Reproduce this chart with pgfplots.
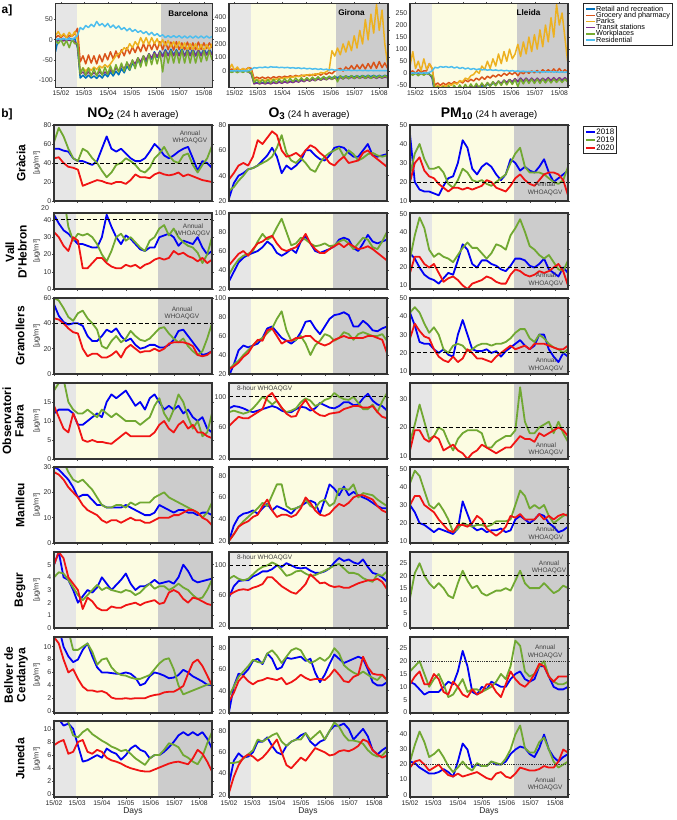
\documentclass[border=0pt]{standalone}
\usepackage{pgfplots}
\pgfplotsset{compat=1.18}
\usepackage{pgfplotstable}
\usepackage{fontspec}
\setmainfont{Liberation Sans}
\setsansfont{Liberation Sans}

\definecolor{c18}{RGB}{0,0,245}
\definecolor{c19}{RGB}{112,168,50}
\definecolor{c20}{RGB}{240,20,20}
\definecolor{bgL}{RGB}{230,230,230}
\definecolor{bgY}{RGB}{252,252,226}
\definecolor{bgD}{RGB}{204,204,204}
\definecolor{cR}{RGB}{0,114,189}
\definecolor{cG}{RGB}{217,83,25}
\definecolor{cP}{RGB}{237,177,32}
\definecolor{cT}{RGB}{126,47,142}
\definecolor{cW}{RGB}{119,172,48}
\definecolor{cS}{RGB}{77,190,238}

\pgfplotsset{
  base/.style={scale only axis, anchor=north west, axis on top, clip=true,
    axis line style={line width=1.3bp, draw=black!80},
    major tick length=1.5bp, tick align=outside, tick style={draw=black!70, line width=0.4bp},
    yticklabel style={font=\fontsize{7}{8}\selectfont, text=black!80, inner sep=1bp},
    xticklabel style={font=\fontsize{6.8}{8}\selectfont, text=black!85, inner sep=1.5bp},
    /pgf/number format/assume math mode=true,
    /pgf/number format/1000 sep={},
    every axis plot/.append style={line width=1.8bp, line join=round},
    xlabel style={font=\fontsize{8.5}{9}\selectfont, text=black!85, inner sep=1bp},
  },
  pan/.style={base, width=158bp, height=76bp, xmin=0, xmax=198, xtick={0,29,60,90,121,151,182}, xticklabels={}},
  panb/.style={pan, xticklabels={15/02,15/03,15/04,15/05,15/06,15/07,15/08}, xlabel={Days}},
  topp/.style={base, height=84bp, xmin=-7, xmax=193, xtick={0,29,60,90,121,151,182},
    xticklabels={15/02,15/03,15/04,15/05,15/06,15/07,15/08},
    every axis plot/.append style={line width=1.5bp}},
  who/.style={black, line width=0.9bp, dash pattern=on 4bp off 2.5bp, forget plot},
  whod/.style={black!80, line width=0.6bp, dash pattern=on 0.8bp off 1bp, forget plot},
}
\tikzset{wt/.style={font=\fontsize{6.5}{7.3}\selectfont, text=black!75, align=center, inner sep=0pt}}

\newcommand{\bgs}[4]{%
 \fill[bgL] ({axis cs:#1,0}|-{rel axis cs:0,0}) rectangle ({axis cs:#2,0}|-{rel axis cs:0,1});
 \fill[bgY] ({axis cs:#2,0}|-{rel axis cs:0,0}) rectangle ({axis cs:#3,0}|-{rel axis cs:0,1});
 \fill[bgD] ({axis cs:#3,0}|-{rel axis cs:0,0}) rectangle ({axis cs:#4,0}|-{rel axis cs:0,1});}
\newcommand{\three}[1]{\addplot[c18] table[x=d,y=a]{#1};\addplot[c19] table[x=d,y=b]{#1};\addplot[c20] table[x=d,y=c]{#1};}
\newcommand{\six}[1]{\addplot[cR] table[x=x,y=R]{#1};\addplot[cG] table[x=x,y=G]{#1};\addplot[cP] table[x=x,y=P]{#1};\addplot[cT] table[x=x,y=T]{#1};\addplot[cW] table[x=x,y=W]{#1};\addplot[cS] table[x=x,y=S]{#1};}

% ---------------- a] mobility ----------------
\pgfplotstableread{
x R G P T W S
-7 -30 5 10 0 -2 0
-3.5 2 10 20 -2 -10 2
0 0 5 8 0 0 0
3.5 3 12 15 -3 -15 3
7 -2 5 5 0 -2 0
10.5 4 10 18 -2 -20 2
14 0 8 8 -2 0 0
17.5 3 15 20 -5 -10 5
21 -20 28 0 -15 -10 10
24.5 -95 -55 -80 -85 -85 30
28 -88 -40 -70 -80 -70 25
31.5 -95 -60 -78 -88 -88 35
35 -88 -38 -70 -80 -70 30
38.5 -95 -58 -76 -88 -90 38
42 -90 -40 -68 -82 -72 32
45.5 -96 -60 -74 -88 -90 45
49 -88 -38 -65 -80 -70 35
52.5 -95 -55 -70 -86 -88 40
56 -85 -35 -62 -80 -68 32
59.5 -92 -50 -68 -85 -86 40
63 -80 -30 -60 -75 -65 30
66.5 -90 -48 -50 -82 -84 36
70 -78 -28 -40 -70 -62 28
73.5 -87 -45 -35 -78 -80 34
77 -72 -25 -30 -65 -58 25
80.5 -82 -40 -20 -72 -78 30
84 -66 -20 -25 -58 -55 22
87.5 -76 -35 -10 -66 -75 28
91 -58 -18 -20 -52 -50 20
94.5 -68 -32 -5 -60 -72 25
98 -50 -15 -15 -45 -45 18
101.5 -62 -30 5 -55 -68 22
105 -42 -10 -10 -40 -40 15
108.5 -55 -28 5 -50 -65 20
112 -35 -8 -12 -35 -36 12
115.5 -48 -25 5 -45 -62 18
119 -30 -8 -10 -32 -35 10
122.5 -44 -25 2 -42 -60 15
126 -28 -5 -15 -30 -32 8
129.5 -40 -25 0 -42 -80 12
133 -25 -5 -15 -28 -30 5
136.5 -38 -25 -2 -40 -58 10
140 -24 -6 -18 -28 -28 5
143.5 -38 -26 -5 -40 -58 10
147 -25 -5 -20 -28 -28 5
150.5 -38 -25 -5 -40 -58 10
154 -22 -8 -22 -27 -26 4
157.5 -40 -25 -8 -40 -58 9
161 -24 -6 -25 -27 -28 4
164.5 -38 -25 -10 -40 -58 9
168 -22 -8 -25 -27 -28 4
171.5 -40 -25 -10 -40 -58 9
175 -24 -6 -28 -27 -30 4
178.5 -38 -24 -12 -40 -55 9
182 -22 -8 -28 -27 -28 4
185.5 -36 -22 -12 -38 -52 9
189 -24 -8 -25 -27 -28 4
192.5 -35 -20 -10 -38 -50 8
}\tBar
\pgfplotstableread{
x R G P T W S
-7 0 5 10 0 -2 0
-3.5 -5 15 50 -3 -10 2
0 0 5 5 0 0 0
3.5 3 20 30 -2 -12 3
7 -2 5 0 0 0 0
10.5 0 15 20 -3 -10 2
14 0 10 5 0 0 0
17.5 -5 25 25 -5 -8 3
21 -20 20 0 -20 -10 10
24.5 -90 -55 -70 -95 -85 25
28 -85 -45 -60 -88 -65 22
31.5 -92 -55 -70 -95 -88 28
35 -85 -45 -65 -88 -65 25
38.5 -90 -55 -70 -95 -88 30
42 -85 -45 -60 -88 -65 25
45.5 -90 -55 -65 -95 -88 32
49 -82 -42 -60 -85 -62 28
52.5 -88 -50 -60 -92 -85 30
56 -80 -40 -55 -82 -60 25
59.5 -86 -48 -55 -90 -82 28
63 -78 -38 -50 -80 -58 24
66.5 -84 -45 -50 -88 -80 27
70 -75 -35 -45 -78 -55 22
73.5 -80 -42 -45 -85 -78 25
77 -70 -32 -40 -75 -52 20
80.5 -76 -40 -40 -82 -75 24
84 -65 -30 -35 -70 -50 18
87.5 -72 -38 -30 -78 -72 22
91 -60 -28 -30 -65 -48 16
94.5 -68 -35 -25 -75 -70 20
98 -55 -25 -30 -62 -45 14
101.5 -62 -32 -20 -72 -68 18
105 -50 -20 -25 -58 -42 12
108.5 -58 -30 -10 -68 -65 16
112 -45 -15 -15 -55 -40 10
115.5 -55 -25 -5 -65 -62 14
119 -42 -10 10 -52 -38 8
122.5 -50 -20 150 -62 -60 12
126 -40 0 110 -50 -36 6
129.5 -50 10 170 -60 -80 10
133 -38 20 120 -48 -35 5
136.5 -48 0 200 -58 -58 8
140 -36 30 140 -46 -35 4
143.5 -46 10 220 -56 -56 7
147 -35 40 150 -45 -34 3
150.5 -45 10 260 -55 -55 6
154 -34 45 170 -44 -34 3
157.5 -44 15 300 -54 -54 6
161 -33 50 200 -44 -34 3
164.5 -43 15 380 -54 -54 5
168 -32 55 230 -44 -34 2
171.5 -42 20 420 -54 -54 5
175 -32 65 280 -44 -34 2
178.5 -42 20 490 -54 -52 4
182 -32 70 300 -44 -34 2
185.5 -42 25 450 -52 -50 4
189 -32 60 200 -44 -34 2
192.5 -40 20 50 -50 -48 3
}\tGir
\pgfplotstableread{
x R G P T W S
-7 0 5 30 0 0 0
-3.5 -3 10 90 -2 -8 2
0 0 0 20 0 0 0
3.5 2 15 50 -2 -10 3
7 0 5 10 0 0 0
10.5 -2 10 60 -3 -8 2
14 0 10 15 0 0 0
17.5 -3 40 40 -5 -5 4
21 -20 20 20 -15 -10 10
24.5 -90 -50 -60 -78 -72 25
28 -80 -40 -50 -70 -55 22
31.5 -90 -50 -60 -78 -72 28
35 -80 -40 -50 -70 -55 25
38.5 -88 -48 -55 -76 -70 28
42 -78 -38 -45 -68 -52 24
45.5 -85 -45 -50 -74 -70 28
49 -75 -35 -40 -65 -50 22
52.5 -82 -42 -45 -72 -68 26
56 -70 -32 -30 -62 -48 20
59.5 -78 -40 -35 -70 -66 24
63 -65 -28 -20 -58 -46 18
66.5 -72 -35 -25 -66 -64 22
70 -60 -25 -10 -54 -44 16
73.5 -68 -32 -5 -62 -62 20
77 -55 -20 10 -50 -42 15
80.5 -62 -28 0 -58 -60 18
84 -50 -15 30 -45 -40 14
87.5 -58 -25 15 -54 -58 16
91 -45 -12 50 -40 -38 13
94.5 -52 -20 20 -50 -55 15
98 -40 -8 60 -36 -35 12
101.5 -48 -15 30 -46 -52 14
105 -35 -5 80 -32 -32 11
108.5 -45 -12 40 -42 -50 13
112 -30 0 90 -28 -30 10
115.5 -40 -8 50 -38 -48 12
119 -28 2 100 -25 -28 9
122.5 -38 -5 60 -35 -46 11
126 -25 5 80 -22 -26 8
129.5 -35 -10 120 -34 -55 10
133 -22 5 70 -20 -25 7
136.5 -35 -2 130 -32 -44 9
140 -22 8 80 -20 -24 6
143.5 -35 0 150 -32 -42 8
147 -22 10 90 -20 -24 6
150.5 -35 2 160 -32 -42 8
154 -22 12 100 -20 -24 5
157.5 -35 2 180 -32 -42 7
161 -22 15 110 -20 -24 5
164.5 -35 5 200 -30 -40 7
168 -22 15 130 -18 -24 5
171.5 -35 5 230 -30 -40 7
175 -22 18 150 -18 -24 5
178.5 -35 5 285 -30 -38 6
182 -22 20 200 -18 -24 4
185.5 -32 5 250 -28 -38 6
189 -22 15 150 -18 -24 4
192.5 -30 5 50 -28 -36 6
}\tLle

% ---------------- b] pollutants ----------------
\pgfplotstableread{
d a b c
0 55 62 45
6 55 77 46
12 53 68 40
18 52 55 36
24 45 45 35
30 42 42 33
36 42 55 16
42 40 52 18
48 38 45 20
54 42 40 22
60 55 32 21
66 68 25 19
72 55 30 18
78 52 38 20
84 55 40 20
90 50 45 18
96 45 42 22
102 42 38 28
108 42 32 25
114 45 30 25
120 52 35 24
126 60 45 28
132 55 50 30
138 48 57 28
144 45 48 27
150 48 42 28
156 52 40 30
162 55 48 26
168 57 50 28
174 45 38 26
180 32 30 24
186 42 38 22
192 40 45 21
198 35 58 20
}\tGN
\pgfplotstableread{
d a b c
0 22 28 37
6 34 31 42
12 40 36 48
18 42 40 50
24 45 45 48
30 46 46 55
36 48 48 68
42 52 50 65
48 56 52 70
54 62 55 75
60 55 62 72
66 42 72 60
72 48 58 55
78 45 52 56
84 48 50 58
90 52 54 55
96 60 50 60
102 60 45 64
108 56 43 62
114 53 50 58
120 52 55 55
126 56 58 50
132 62 60 48
138 63 62 52
144 62 55 55
150 58 60 50
156 55 57 51
162 55 52 52
168 60 54 58
174 65 57 60
180 56 58 56
186 55 56 53
192 56 55 50
198 57 56 47
}\tGO
\pgfplotstableread{
d a b c
0 45 24 20
6 20 35 30
12 16 40 33
18 15 32 26
24 15 27 23
30 14 27 22
36 13 28 19
42 18 25 17
48 22 19 15
54 23 17 17
60 30 21 17
66 42 27 16
72 38 25 17
78 27 21 16
84 24 20 17
90 28 21 18
96 30 19 21
102 28 18 20
108 24 20 17
114 21 22 16
120 24 24 15
126 32 30 18
132 30 35 22
138 26 38 24
144 28 28 21
150 26 25 19
156 25 25 18
162 28 25 21
168 32 24 24
174 25 22 25
180 20 20 25
186 22 19 24
192 24 21 21
198 26 28 13
}\tGP
\pgfplotstableread{
d a b c
0 43 60 33
6 38 58 30
12 34 54 25
18 32 36 22
24 29 28 30
30 26 32 28
36 26 31 12
42 25 32 12
48 24 30 15
54 24 26 18
60 30 20 18
66 43 16 15
72 36 22 13
78 30 30 12
84 26 32 12
90 31 28 14
96 29 30 13
102 26 27 14
108 23 24 12
114 22 22 14
120 24 28 15
126 24 30 17
132 30 35 18
138 31 37 17
144 32 31 18
150 30 35 22
156 25 30 20
162 28 27 21
168 27 25 19
174 26 24 18
180 30 21 16
186 24 15 18
192 20 20 15
198 22 30 17
}\tVN
\pgfplotstableread{
d a b c
0 28 35 45
6 38 44 51
12 48 51 57
18 53 55 60
24 56 57 55
30 58 60 62
36 60 70 68
42 64 78 70
48 70 72 74
54 66 75 76
60 58 85 68
66 55 94 62
72 58 80 60
78 62 66 62
84 58 68 64
90 70 74 70
96 75 72 78
102 68 68 68
108 60 65 62
114 58 66 58
120 60 68 58
126 62 65 62
132 65 66 65
138 72 70 68
144 74 72 64
150 72 68 68
156 63 62 65
162 60 68 62
168 68 74 63
174 77 72 65
180 70 64 62
186 68 62 58
192 70 70 54
198 72 80 50
}\tVO
\pgfplotstableread{
d a b c
0 28 25 17
6 25 38 26
12 20 48 26
18 16 42 22
24 14 30 20
30 13 26 22
36 11 28 17
42 14 26 12
48 17 25 14
54 16 23 15
60 24 27 13
66 33 31 10
72 30 34 8
78 22 31 11
84 20 31 12
90 24 28 13
96 24 25 15
102 22 28 14
108 21 33 12
114 19 32 11
120 18 30 11
126 21 38 16
132 25 42 19
138 25 47 18
144 24 40 16
150 21 32 15
156 20 30 16
162 22 27 18
168 25 25 17
174 19 27 18
180 17 23 20
186 15 19 22
192 20 18 18
198 17 24 10
}\tVP
\pgfplotstableread{
d a b c
0 55 60 44
6 46 58 43
12 41 52 40
18 39 45 36
24 40 42 33
30 40 48 32
36 38 50 20
42 30 44 14
48 26 40 16
54 26 35 16
60 30 22 13
66 35 20 13
72 33 26 15
78 36 30 18
84 30 25 13
90 26 28 20
96 28 34 23
102 23 30 20
108 20 27 17
114 21 26 18
120 23 28 18
126 23 32 20
132 21 36 18
138 21 37 20
144 23 32 24
150 27 28 25
156 34 25 25
162 35 28 25
168 30 22 24
174 25 18 22
180 20 15 15
186 15 18 14
192 16 28 15
198 18 40 18
}\tRN
\pgfplotstableread{
d a b c
0 18 25 25
6 30 30 28
12 45 34 32
18 50 40 38
24 48 45 42
30 50 50 50
36 52 55 56
42 58 58 55
48 68 63 66
54 70 68 68
60 64 78 60
66 58 86 52
72 55 66 55
78 52 55 55
84 56 56 58
90 64 60 58
96 75 52 60
102 76 40 60
108 68 50 55
114 62 55 52
120 70 62 50
126 78 60 52
132 82 55 56
138 83 58 58
144 85 64 60
150 82 62 58
156 70 56 58
162 70 62 58
168 76 64 58
174 72 62 60
180 66 60 60
186 65 60 58
192 68 62 56
198 70 55 42
}\tRO
\pgfplotstableread{
d a b c
0 42 42 28
6 35 45 36
12 26 42 32
18 25 36 29
24 25 31 28
30 22 34 22
36 20 30 18
42 22 22 16
48 19 20 15
54 18 24 18
60 30 25 15
66 38 24 17
72 30 21 22
78 22 22 20
84 21 24 17
90 21 25 17
96 22 25 16
102 20 24 15
108 21 25 18
114 18 25 20
120 21 26 22
126 23 28 24
132 25 31 22
138 27 33 23
144 24 33 24
150 22 28 22
156 24 26 25
162 30 30 25
168 30 28 25
174 22 25 24
180 18 23 23
186 15 22 22
192 20 20 22
198 18 22 24
}\tRP
\pgfplotstableread{
d a b c
0 12 18 14
6 13 20 11
12 13 21 8
18 13 15 7
24 12 13 12
30 9 12 9
36 9 12 5
42 10 13 4.5
48 11 12 5
54 12 11 4.5
60 11 13 4.5
66 15 12 4.2
72 17 11 4
78 16 12 5
84 17 11 6
90 18 10 7
96 16 10 6
102 14 10 6
108 15 9 6
114 13 10 6
120 16 11 6
126 17 14 7
132 15 16 9
138 13 12 10
144 14 10 8
150 13 13 7
156 14 17 9
162 12 15 10
168 13 11 8
174 11 8 9
180 10 10 7
186 11 6 7
192 8 7 6
198 7 12 5.5
}\tFN
\pgfplotstableread{
d a b c
0 85 80 62
6 88 82 68
12 87 80 74
18 85 78 72
24 82 80 72
30 80 85 76
36 82 92 80
42 84 100 84
48 86 96 100
54 88 90 105
60 86 95 95
66 82 85 86
72 80 80 78
78 80 82 74
84 84 85 75
90 87 93 88
96 86 98 96
102 82 95 86
108 85 88 80
114 92 91 76
120 89 96 75
126 86 98 78
132 85 105 79
138 88 100 80
144 93 97 84
150 93 96 86
156 89 100 88
162 90 92 88
168 98 84 86
174 104 84 86
180 95 90 88
186 90 80 80
192 88 94 74
198 82 105 72
}\tFO
\pgfplotstableread{
d b c
0 15 12
6 21 19
12 28 19
18 22 16
24 16 15
30 17 17
36 20 16
42 19 12
48 15 13
54 12 14
60 16 12
66 18 11
72 19 9
78 19 11
84 19 12
90 18 14
96 13 13
102 13 12
108 15 11
114 16 12
120 17 13
126 17 13
132 19 15
138 34 17
144 22 16
150 18 16
156 18 15
162 20 18
168 21 17
174 22 18
180 18 19
186 22 20
192 18 19
198 15 17
}\tFP
\pgfplotstableread{
d a b c
0 30 34 28
6 29 33 27
12 27 32 25
18 25 28 22
24 22 25 20
30 18 24 18
36 19 25 15
42 19 23 13
48 17 21 12
54 15 18 11
60 15 15 9
66 14 14 8
72 14 14 9
78 14 15 9
84 14 15 8
90 15 14 9
96 14 16 10
102 13 15 9
108 12 16 9
114 11 16 8
120 11 16 8
126 12 18 9
132 15 19 10
138 14 20 10
144 13 18 10
150 12 17 11
156 13 16 11
162 13 15 12
168 12 14 13
174 12 13 13
180 11 12 12
186 12 10 10
192 12 12 9
198 11 16 7
}\tMN
\pgfplotstableread{
d a b c
0 20 20 20
6 34 26 26
12 42 33 33
18 45 38 36
24 46 42 38
30 48 46 42
36 45 50 44
42 50 55 52
48 54 52 58
54 48 62 48
60 52 72 42
66 50 72 44
72 48 52 44
78 45 49 42
84 50 50 44
90 52 52 50
96 55 58 60
102 57 52 55
108 55 50 48
114 45 56 44
120 58 58 43
126 72 52 45
132 68 55 50
138 62 68 54
144 70 68 52
150 62 67 55
156 65 72 60
162 62 60 62
168 60 64 62
174 58 63 60
180 55 62 58
186 52 58 52
192 50 55 48
198 50 52 46
}\tMO
\pgfplotstableread{
d a b c
0 30 42 30
6 26 49 35
12 20 46 35
18 19 38 30
24 17 30 28
30 15 28 26
36 17 31 22
42 16 27 19
48 15 22 16
54 14 15 15
60 17 17 19
66 32 20 19
72 25 19 18
78 18 18 20
84 16 19 24
90 17 19 22
96 15 18 17
102 16 19 15
108 16 21 13
114 17 21 15
120 15 21 18
126 16 22 24
132 22 30 23
138 24 38 25
144 22 35 22
150 20 28 22
156 22 30 22
162 25 28 25
168 24 30 22
174 20 24 24
180 18 20 22
186 15 22 24
192 16 24 25
198 18 25 24
}\tMP
\pgfplotstableread{
d a b c
0 5 4 5
6 6 4.4 6
12 4 4.3 5.5
18 3.8 3.8 4
24 3 3.2 3.5
30 2 2.6 3
36 2.5 2.2 1.5
42 3 2.6 2.4
48 2.8 3 2.1
54 3.2 3.4 1.6
60 4 3 1.4
66 3.5 3.2 1.4
72 3 3 1.7
78 3.4 2.9 1.6
84 3.8 2.8 1.6
90 4.3 3 1.8
96 3.5 2.9 1.9
102 3 2.6 2
108 3.3 2.8 1.8
114 3.3 3.2 2
120 3.5 3.5 2.1
126 3.8 3.1 2.2
132 3.5 3.3 1.9
138 3.6 3.3 2
144 3.7 3 2.8
150 3.5 3.2 3
156 4 3.5 2.8
162 5 3.2 2.3
168 4.5 3 2
174 3.8 2.6 2.4
180 3.6 2.3 2.3
186 3.7 2.4 2.1
192 3.8 3 1.9
198 3.9 3.8 1.8
}\tBN
\pgfplotstableread{
d a b c
0 57 82 60
6 72 86 64
12 79 82 67
18 80 80 68
24 80 82 67
30 85 88 70
36 88 94 72
42 92 98 75
48 92 100 84
54 95 104 84
60 100 101 78
66 98 94 72
72 103 86 68
78 100 88 64
84 97 92 62
90 96 93 68
96 97 89 75
102 93 86 88
108 90 87 82
114 90 90 76
120 92 93 77
126 96 96 73
132 104 100 71
138 110 102 72
144 106 96 70
150 108 90 70
156 104 90 73
162 102 88 76
168 108 83 78
174 98 80 80
180 90 78 80
186 88 88 82
192 84 86 78
198 78 92 68
}\tBO
\pgfplotstableread{
d b
0 11
6 21
12 25
18 20
24 17
30 15
36 17
42 15
48 12
54 11
60 17
66 22
72 18
78 15
84 16
90 13
96 12
102 13
108 14
114 14
120 15
126 14
132 18
138 22
144 17
150 15
156 15
162 15
168 17
174 15
180 13
186 14
192 16
198 15
}\tBP
\pgfplotstableread{
d a b c
0 13 14 11.5
6 13 14 10.5
12 10 14 8
18 8.5 12.5 6
24 7.6 9.5 6.5
30 8 9.5 5
36 9.5 10 3.8
42 10.5 10.5 3.2
48 8.5 9.2 3.2
54 6.8 7.2 3
60 6 8 3.1
66 6 8.2 2.8
72 5.9 6.8 2.1
78 5.8 6 1.9
84 5.8 5.6 1.9
90 6 5.5 2
96 5.8 5.2 1.9
102 5.2 5 2
108 4 5 2
114 4.3 5.3 2
120 5.4 5.6 2.3
126 6 6.5 2.5
132 5.8 7.4 2.6
138 5.5 8 2.9
144 5.1 8.2 3
150 5.2 6.5 3
156 5.6 4 3.4
162 6.4 2.6 3.9
168 6 2.9 5.8
174 5.4 3.2 7.5
180 5 3.5 8
186 4.6 3.8 7
192 4.1 4.1 5.5
198 4 4.2 4
}\tCN
\pgfplotstableread{
d a b c
0 20 35 30
6 44 44 38
12 56 53 49
18 55 58 54
24 60 63 49
30 68 69 46
36 70 67 49
42 65 66 50
48 75 75 52
54 70 78 51
60 60 73 50
66 62 66 52
72 71 72 46
78 70 78 48
84 71 80 51
90 72 78 55
96 68 70 52
102 70 66 50
108 57 68 51
114 48 71 51
120 55 68 50
126 65 72 54
132 74 80 60
138 70 75 55
144 66 64 49
150 68 60 48
156 70 57 53
162 72 55 55
168 70 58 72
174 60 55 62
180 48 52 56
186 45 50 55
192 45 55 55
198 48 50 50
}\tCO
\pgfplotstableread{
d a b c
0 12 16 11
6 11 18 14
12 9 20 16
18 7 15 11
24 8 10 11
30 8 13 15
36 8 15 13
42 10 11 8
48 12 6 7
54 11 7 12
60 16 10 10
66 24 13 7
72 18 8 6
78 8 9 9
84 7 9 7
90 10 8 8
96 9 9 11
102 12 10 11
108 11 12 8
114 10 15 6
120 10 13 11
126 13 18 16
132 15 28 13
138 16 26 11
144 13 16 10
150 12 14 12
156 13 15 15
162 18 18 19
168 18 20 18
174 14 14 14
180 10 12 12
186 9 11 14
192 9 11 14
198 10 12 14
}\tCP
\pgfplotstableread{
d a b c
0 12 12 7.5
6 11.5 12 8
12 10.5 12 8.3
18 10.8 11 6.2
24 10 9 6.5
30 7.5 8.7 8
36 5 9.5 8.3
42 5.2 10 6.5
48 5.6 9.2 6.2
54 6 8.7 6.8
60 5.6 8.2 6.5
66 7 7.8 5.6
72 6.5 7.3 5.2
78 6.2 7 5
84 5.3 6.6 4.7
90 6 6.8 4.3
96 7 6.2 4
102 7.5 5.5 3.8
108 6.8 5 3.6
114 6.5 4.5 3.5
120 5.5 5.5 3.5
126 6 6 3.8
132 6 6 4.1
138 6.5 6.8 4.4
144 7.2 7.8 4.7
150 8 7.6 4.9
156 9 7.2 5
162 9.5 6 4.8
168 9 5.6 4.6
174 9.5 5 5.5
180 9 4.6 6.8
186 9.5 5.8 6.2
192 8.5 7.8 5
198 7 9.5 3.5
}\tJN
\pgfplotstableread{
d a b c
0 30 50 22
6 52 50 37
12 59 51 48
18 55 54 55
24 56 58 58
30 60 62 56
36 70 72 52
42 70 70 55
48 74 73 60
54 66 76 66
60 60 78 72
66 58 70 60
72 66 66 48
78 70 70 45
84 72 72 50
90 76 72 55
96 78 78 52
102 70 72 58
108 66 76 64
114 70 80 62
120 72 72 60
126 80 80 57
132 85 88 58
138 85 84 61
144 87 76 62
150 82 71 61
156 72 71 63
162 77 70 66
168 82 68 72
174 75 62 70
180 62 58 62
186 58 56 58
192 62 57 55
198 65 62 57
}\tJO
\pgfplotstableread{
d a b c
0 22 22 18
6 21 33 22
12 18 42 23
18 16 35 20
24 14 25 16
30 14 27 18
36 15 30 20
42 17 25 16
48 15 19 13
54 12 15 12
60 22 18 14
66 34 22 12
72 30 18 13
78 18 16 14
84 20 21 15
90 19 19 13
96 19 19 11
102 22 22 10
108 20 21 14
114 20 20 15
120 22 24 12
126 27 30 11
132 30 40 14
138 32 46 18
144 31 31 17
150 27 28 16
156 25 28 16
162 31 35 17
168 40 38 19
174 30 30 18
180 25 22 18
186 22 18 22
192 25 20 30
198 27 22 28
}\tJP

\begin{document}
\begin{tikzpicture}
\path[use as bounding box] (0,0) rectangle (677bp,-820bp);

% ===== a] =====
\node[font=\bfseries\fontsize{12}{12}\selectfont] at (7bp,-10bp) {a]};
\begin{axis}[topp, width=157bp, at={(55.5bp,-3.3bp)}, ymin=-118, ymax=90, ytick={-100,-50,0,50}]
\bgs{-7}{21}{128}{193}
\six{\tBar}
\node[font=\bfseries\fontsize{8.2}{9}\selectfont] at (rel axis cs:0.845,0.88) {Barcelona};
\end{axis}
\begin{axis}[topp, width=159bp, at={(229bp,-3.3bp)}, ymin=-120, ymax=500, ytick={0,100,200,300,400}]
\bgs{-7}{21}{128}{193}
\six{\tGir}
\node[font=\bfseries\fontsize{8.2}{9}\selectfont] at (rel axis cs:0.77,0.89) {Girona};
\end{axis}
\begin{axis}[topp, width=158bp, at={(410bp,-3.3bp)}, ymin=-58, ymax=290, ytick={-50,0,50,100,150,200,250},
  legend style={at={(1.095,1.0)}, anchor=north west, draw=black!85, line width=1.1bp, fill=white,
    font=\fontsize{7.3}{7.5}\selectfont, inner sep=1.8bp, row sep=-0.6bp,
    nodes={inner sep=0.4bp, text height=5bp, text depth=1bp}, cells={anchor=west}},
  legend image code/.code={\draw[#1, line width=1.3bp] (0bp,0bp) -- (9bp,0bp);},
  legend entries={Retail and recreation, Grocery and pharmacy, Parks, Transit stations, Workplaces, Residential}]
\bgs{-7}{21}{128}{193}
\six{\tLle}
\node[font=\bfseries\fontsize{8.2}{9}\selectfont] at (rel axis cs:0.75,0.89) {Lleida};
\end{axis}

% ===== b] titles =====
\node[font=\bfseries\fontsize{12}{12}\selectfont] at (7bp,-114bp) {b]};
\node at (133bp,-114bp) {\fontsize{14}{14}\selectfont\bfseries NO\textsubscript{2}\mdseries\fontsize{9.5}{10}\selectfont{} (24 h average)};
\node at (309bp,-114bp) {\fontsize{14}{14}\selectfont\bfseries O\textsubscript{3}\mdseries\fontsize{9.5}{10}\selectfont{} (24 h average)};
\node at (489bp,-114bp) {\fontsize{14}{14}\selectfont\bfseries PM\textsubscript{10}\mdseries\fontsize{9.5}{10}\selectfont{} (24 h average)};

% ===== row labels =====
\tikzset{rl/.style={rotate=90, align=center, font=\bfseries\fontsize{12}{12.5}\selectfont},
         ul/.style={rotate=90, font=\fontsize{7.5}{8}\selectfont, text=black!80}}
\node[rl] at (21bp,-163bp) {Gràcia};
\node[rl] at (16bp,-252bp) {Vall\\D'Hebron};
\node[rl] at (20bp,-336bp) {Granollers};
\node[rl] at (13bp,-421bp) {Observatori\\Fabra};
\node[rl] at (20bp,-505bp) {Manlleu};
\node[rl] at (20bp,-590bp) {Begur};
\node[rl] at (16bp,-675bp) {Bellver de\\Cerdanya};
\node[rl] at (20bp,-759bp) {Juneda};
\foreach \yy in {163,251,336,421,505,590,675,759} {\node[ul] at (36.8bp,-\yy bp) {[µg/m³]};}
\node[anchor=east, font=\fontsize{7}{8}\selectfont, text=black!80] at (52.5bp,-208bp) {20};

% ===== Row 1 Gracia =====
\begin{axis}[pan, at={(54bp,-125bp)}, ymin=0, ymax=80, ytick={0,20,40,60,80}]
\bgs{0}{27}{130}{198}\three{\tGN}
\addplot[who] coordinates {(0,40) (198,40)};
\node[wt] at (rel axis cs:0.86,0.835) {Annual\\WHOAQGV};
\end{axis}
\begin{axis}[pan, at={(229bp,-125bp)}, ymin=20, ymax=80, ytick={20,40,60,80}]
\bgs{0}{27}{130}{198}\three{\tGO}
\end{axis}
\begin{axis}[pan, at={(410bp,-125bp)}, ymin=10, ymax=50, ytick={10,20,30,40,50},
  legend style={at={(1.095,0.99)}, anchor=north west, draw=black!85, line width=1.1bp, fill=white,
    font=\fontsize{8}{8.5}\selectfont, inner sep=1.5bp, row sep=0bp,
    nodes={inner sep=0.6bp, text height=6bp, text depth=0.8bp}, cells={anchor=west}},
  legend image code/.code={\draw[#1, line width=1.8bp] (0bp,0bp) -- (9bp,0bp);},
  legend entries={2018,2019,2020}]
\bgs{0}{27}{130}{198}\three{\tGP}
\addplot[who] coordinates {(0,20) (198,20)};
\node[wt] at (rel axis cs:0.855,0.16) {Annual\\WHOAQGV};
\end{axis}

% ===== Row 2 Vall d'Hebron =====
\begin{axis}[pan, at={(54bp,-213bp)}, ymin=0, ymax=44, ytick={0,10,20,30,40}]
\bgs{0}{27}{130}{198}\three{\tVN}
\addplot[who] coordinates {(0,40) (198,40)};
\node[wt] at (rel axis cs:0.88,0.77) {Annual\\WHOAQGV};
\end{axis}
\begin{axis}[pan, at={(229bp,-213bp)}, ymin=20, ymax=100, ytick={20,40,60,80,100}]
\bgs{0}{27}{130}{198}\three{\tVO}
\end{axis}
\begin{axis}[pan, at={(410bp,-213bp)}, ymin=8, ymax=50.5, ytick={10,20,30,40,50}]
\bgs{0}{27}{130}{198}\three{\tVP}
\addplot[who] coordinates {(0,20) (198,20)};
\node[wt] at (rel axis cs:0.86,0.12) {Annual\\WHOAQGV};
\end{axis}

% ===== Row 3 Granollers =====
\begin{axis}[pan, at={(54bp,-298bp)}, ymin=0, ymax=60, ytick={0,20,40,60}]
\bgs{0}{27}{130}{198}\three{\tRN}
\addplot[who] coordinates {(0,40) (198,40)};
\node[wt] at (rel axis cs:0.81,0.80) {Annual\\WHOAQGV};
\end{axis}
\begin{axis}[pan, at={(229bp,-298bp)}, ymin=20, ymax=100, ytick={20,40,60,80,100}]
\bgs{0}{27}{130}{198}\three{\tRO}
\end{axis}
\begin{axis}[pan, at={(410bp,-298bp)}, ymin=8.5, ymax=50, ytick={10,20,30,40,50}]
\bgs{0}{27}{130}{198}\three{\tRP}
\addplot[who] coordinates {(0,20) (198,20)};
\node[wt] at (rel axis cs:0.86,0.12) {Annual\\WHOAQGV};
\end{axis}

% ===== Row 4 Observatori Fabra =====
\begin{axis}[pan, at={(54bp,-383bp)}, ymin=0, ymax=20, ytick={0,5,10,15}]
\bgs{0}{27}{130}{198}\three{\tFN}
\end{axis}
\begin{axis}[pan, at={(229bp,-383bp)}, ymin=19, ymax=118, ytick={20,60,100}]
\bgs{0}{27}{130}{198}\three{\tFO}
\addplot[who] coordinates {(0,100) (198,100)};
\node[wt, anchor=west] at (rel axis cs:0.05,0.93) {8-hour WHOAQGV};
\end{axis}
\begin{axis}[pan, at={(410bp,-383bp)}, ymin=9, ymax=35.5, ytick={10,20,30}]
\bgs{0}{27}{130}{198}
\addplot[c19] table[x=d,y=b]{\tFP};
\addplot[c20] table[x=d,y=c]{\tFP};
\addplot[who] coordinates {(0,20) (198,20)};
\node[wt] at (rel axis cs:0.86,0.13) {Annual\\WHOAQGV};
\end{axis}

% ===== Row 5 Manlleu =====
\begin{axis}[pan, at={(54bp,-467bp)}, ymin=0, ymax=30, ytick={0,10,20,30}]
\bgs{0}{27}{130}{198}\three{\tMN}
\end{axis}
\begin{axis}[pan, at={(229bp,-467bp)}, ymin=18, ymax=88, ytick={20,40,60,80}]
\bgs{0}{27}{130}{198}\three{\tMO}
\end{axis}
\begin{axis}[pan, at={(410bp,-467bp)}, ymin=9, ymax=51, ytick={10,20,30,40,50}]
\bgs{0}{27}{130}{198}\three{\tMP}
\addplot[who] coordinates {(0,20) (198,20)};
\node[wt] at (rel axis cs:0.86,0.12) {Annual\\WHOAQGV};
\end{axis}

% ===== Row 6 Begur =====
\begin{axis}[pan, at={(54bp,-552bp)}, ymin=0, ymax=6, ytick={0,1,2,3,4,5}]
\bgs{0}{27}{130}{198}\three{\tBN}
\end{axis}
\begin{axis}[pan, at={(229bp,-552bp)}, ymin=16, ymax=118, ytick={20,60,100}]
\bgs{0}{27}{130}{198}\three{\tBO}
\addplot[who] coordinates {(0,100) (198,100)};
\node[wt, anchor=west] at (rel axis cs:0.05,0.92) {8-hour WHOAQGV};
\end{axis}
\begin{axis}[pan, at={(410bp,-552bp)}, ymin=-1, ymax=29.5, ytick={0,5,10,15,20,25}]
\bgs{0}{27}{130}{198}
\addplot[c19] table[x=d,y=b]{\tBP};
\addplot[who] coordinates {(0,20) (198,20)};
\node[wt] at (rel axis cs:0.88,0.80) {Annual\\WHOAQGV};
\end{axis}

% ===== Row 7 Bellver de Cerdanya =====
\begin{axis}[pan, at={(54bp,-637bp)}, ymin=-0.3, ymax=11.5, ytick={0,2,4,6,8,10}]
\bgs{0}{27}{130}{198}\three{\tCN}
\end{axis}
\begin{axis}[pan, at={(229bp,-637bp)}, ymin=19, ymax=90.5, ytick={20,40,60,80}]
\bgs{0}{27}{130}{198}\three{\tCO}
\end{axis}
\begin{axis}[pan, at={(410bp,-637bp)}, ymin=-0.2, ymax=29.4, ytick={0,5,10,15,20,25}]
\bgs{0}{27}{130}{198}\three{\tCP}
\addplot[whod] coordinates {(0,20) (198,20)};
\node[wt] at (rel axis cs:0.855,0.805) {Annual\\WHOAQGV};
\end{axis}

% ===== Row 8 Juneda =====
\begin{axis}[panb, at={(54bp,-721bp)}, ymin=-0.4, ymax=11.2, ytick={0,2,4,6,8,10}]
\bgs{0}{27}{130}{198}\three{\tJN}
\end{axis}
\begin{axis}[panb, at={(229bp,-721bp)}, ymin=18, ymax=89.4, ytick={20,40,60,80}]
\bgs{0}{27}{130}{198}\three{\tJO}
\end{axis}
\begin{axis}[panb, at={(410bp,-721bp)}, ymin=-1.6, ymax=49, ytick={0,10,20,30,40}]
\bgs{0}{27}{130}{198}\three{\tJP}
\addplot[whod] coordinates {(0,20) (198,20)};
\node[wt] at (rel axis cs:0.855,0.17) {Annual\\WHOAQGV};
\end{axis}
\end{tikzpicture}
\end{document}
